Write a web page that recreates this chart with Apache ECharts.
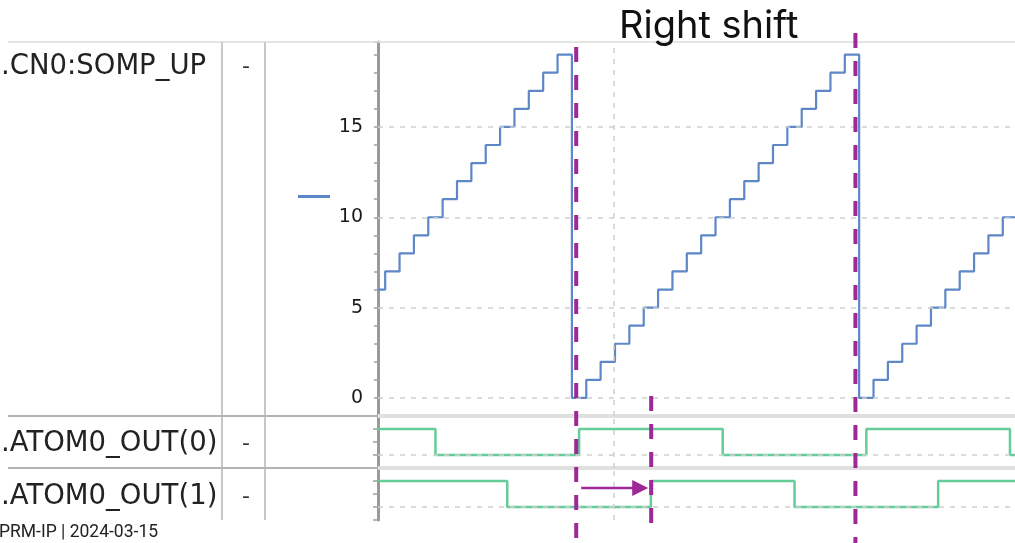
<!DOCTYPE html>
<html><head><meta charset="utf-8">
<script src="https://cdn.jsdelivr.net/npm/echarts@6/dist/echarts.min.js"></script>
<style>html,body{margin:0;padding:0;background:#fff;overflow:hidden}#c{width:1015px;height:543px}</style>
</head><body><div id="c"></div>
<script>
// ---- data ----
const signalNames = ['.CN0:SOMP_UP', '.ATOM0_OUT(0)', '.ATOM0_OUT(1)'];
const signalUnits = ['-', '-', '-'];
const counterTimes = [0,1,2,3,4,5,6,7,8,9,10,11,12,13,14,15,16,17,18,19,20,21,22,23,24,25,26,27,28,29,30,31,32,33,34,35,36,37,38,39,40,41,42,43,44,45];
const counterValues = [6,7,8,9,10,11,12,13,14,15,16,17,18,19,0,1,2,3,4,5,6,7,8,9,10,11,12,13,14,15,16,17,18,19,0,1,2,3,4,5,6,7,8,9,10,11];
const out0Times = [0,4,14,24,34,44,45];
const out0Values = [1,0,1,0,1,0,0];
const out1Times = [0,9,19,29,39,45];
const out1Values = [1,0,1,0,1,1];
const counterTickLabels = [0,5,10,15];
const verticalGridTimes = [16.4];
const cursorTimes = [13.8, 33.24];   // the two long purple cursors
const shiftedEdgeTime = 19.02;       // short purple cursor at shifted edge
const titleText = 'Right shift';
const footerText = 'PRM-IP | 2024-03-15';

const BLUE = '#5d87c6', GREEN = '#66cc99', PURPLE = '#9e2896';
const GRIDC = '#cfcfcf';

function pairs(xs, ys){ return xs.map((x,i)=>[x, ys[i]]); }

const chart = echarts.init(document.getElementById('c'), null, {renderer:'canvas'});

const xAxisBase = {type:'value', min:0, max:44.35, show:false, splitLine:{show:false}};
const gridMark = (yVals) => ({
  silent:true, symbol:['none','none'], label:{show:false}, animation:false,
  lineStyle:{type:[5,6], color:GRIDC, width:1.5},
  data: yVals.map(v=>({yAxis:v})).concat(verticalGridTimes.map(t=>({xAxis:t})))
});

const option = {
  animation:false,
  backgroundColor:'#fff',
  grid:[
    {left:378, right:0, top:42, height:374},
    {left:378, right:0, top:416, height:52},
    {left:378, right:0, top:468, height:52}
  ],
  legend:{
    data:[{name:'SOMP_UP', icon:'rect'}], left:293, top:190,
    itemWidth:32, itemHeight:3, formatter:()=>'', selectedMode:false,
    textStyle:{fontSize:1}
  },
  xAxis:[
    Object.assign({gridIndex:0}, xAxisBase),
    Object.assign({gridIndex:1}, xAxisBase),
    Object.assign({gridIndex:2}, xAxisBase)
  ],
  yAxis:[
    {gridIndex:0, type:'value', min:-1, max:19.7, interval:1,
     axisLine:{show:true, lineStyle:{color:'#9a9a9a', width:3}},
     axisTick:{show:true, length:4, lineStyle:{color:'#a0a0a0', width:1.5}},
     axisLabel:{customValues:counterTickLabels, fontSize:19, color:'#1a1a1a', fontFamily:'DejaVu Sans', margin:15},
     splitLine:{show:false}},
    {gridIndex:0, type:'value', min:-1, max:19.7,
     axisLine:{show:false},
     axisTick:{show:true, customValues:counterTickLabels, length:10, lineStyle:{color:'#a0a0a0', width:1.5}},
     axisLabel:{show:false}, splitLine:{show:false}},
    {gridIndex:1, type:'value', min:-0.5, max:1.5, interval:0.5,
     axisLine:{show:true, lineStyle:{color:'#9a9a9a', width:3}},
     axisTick:{show:true, length:5, lineStyle:{color:'#a0a0a0', width:1.5}},
     axisLabel:{show:false}, splitLine:{show:false}},
    {gridIndex:2, type:'value', min:-0.5, max:1.5, interval:0.5,
     axisLine:{show:true, lineStyle:{color:'#9a9a9a', width:3}},
     axisTick:{show:true, length:5, lineStyle:{color:'#a0a0a0', width:1.5}},
     axisLabel:{show:false}, splitLine:{show:false}}
  ],
  series:[
    {name:'SOMP_UP', type:'line', step:'middle', xAxisIndex:0, yAxisIndex:0,
     data:pairs(counterTimes, counterValues), symbol:'none',
     lineStyle:{color:BLUE, width:2.2}, itemStyle:{color:BLUE},
     markLine:gridMark(counterTickLabels)},
    {name:'OUT0', type:'line', step:'end', xAxisIndex:1, yAxisIndex:2,
     data:pairs(out0Times, out0Values), symbol:'none',
     lineStyle:{color:GREEN, width:2.5}, itemStyle:{color:GREEN},
     markLine:gridMark([0])},
    {name:'OUT1', type:'line', step:'end', xAxisIndex:2, yAxisIndex:3,
     data:pairs(out1Times, out1Values), symbol:'none',
     lineStyle:{color:GREEN, width:2.5}, itemStyle:{color:GREEN},
     markLine:gridMark([0])}
  ]
};
chart.setOption(option);

// ---- layout graphics (table, title, footer, cursors) ----
const g = [];
const line = (x1,y1,x2,y2,color,w,dash,z) => ({type:'line', z:z||10, silent:true,
  shape:{x1,y1,x2,y2}, style:{stroke:color, lineWidth:w, lineDash:dash||null}});
const txt = (x,y,text,font,fill,align) => ({type:'text', x, y, z:20, silent:true,
  style:{text, font, fill, textAlign:align||'left', align:align||'left', textVerticalAlign:'middle', verticalAlign:'middle'}});

// table lines
g.push(line(8,42,1015,42,'#dddddd',1.5));
g.push(line(222,42,222,520,'#c8c8c8',2));
g.push(line(265,42,265,520,'#c8c8c8',2));
[416,468].forEach(y=>{
  g.push(line(8,y,378,y,'#b4b4b4',2));
  g.push(line(378,y,1015,y,'#e0e0e0',4,null,1));
});
// row texts
const rowY = [67, 444, 497];
signalNames.forEach((n,i)=>{
  g.push(txt(1, rowY[i], n, '27.5px "DejaVu Sans"', '#222'));
  g.push(txt(246, rowY[i], signalUnits[i], '22px "DejaVu Sans"', '#333', 'center'));
});
g.push(txt(619, 27, titleText, '38px Inter', '#111'));
g.push(txt(-1, 533, footerText, '17.5px Roboto', '#222'));

// purple cursors positioned from the time axis
const px = t => chart.convertToPixel({xAxisIndex:0}, t);
const xa = px(cursorTimes[0]), xb = px(cursorTimes[1]), xs = px(shiftedEdgeTime);
const dash = [15,13];
g.push(line(xa,47,xa,543,PURPLE,4,dash,30));
g.push(line(xb,33,xb,543,PURPLE,4,dash,30));
g.push(line(xs,396,xs,523,PURPLE,4,dash,30));
const ay = 488;
g.push(line(xa+5,ay,xs-18,ay,PURPLE,2.5,null,30));
g.push({type:'polygon', z:30, silent:true,
  shape:{points:[[xs-19,ay-8],[xs-3,ay],[xs-19,ay+8]]}, style:{fill:PURPLE}});

chart.setOption({graphic:{elements:g}});
</script></body></html>
